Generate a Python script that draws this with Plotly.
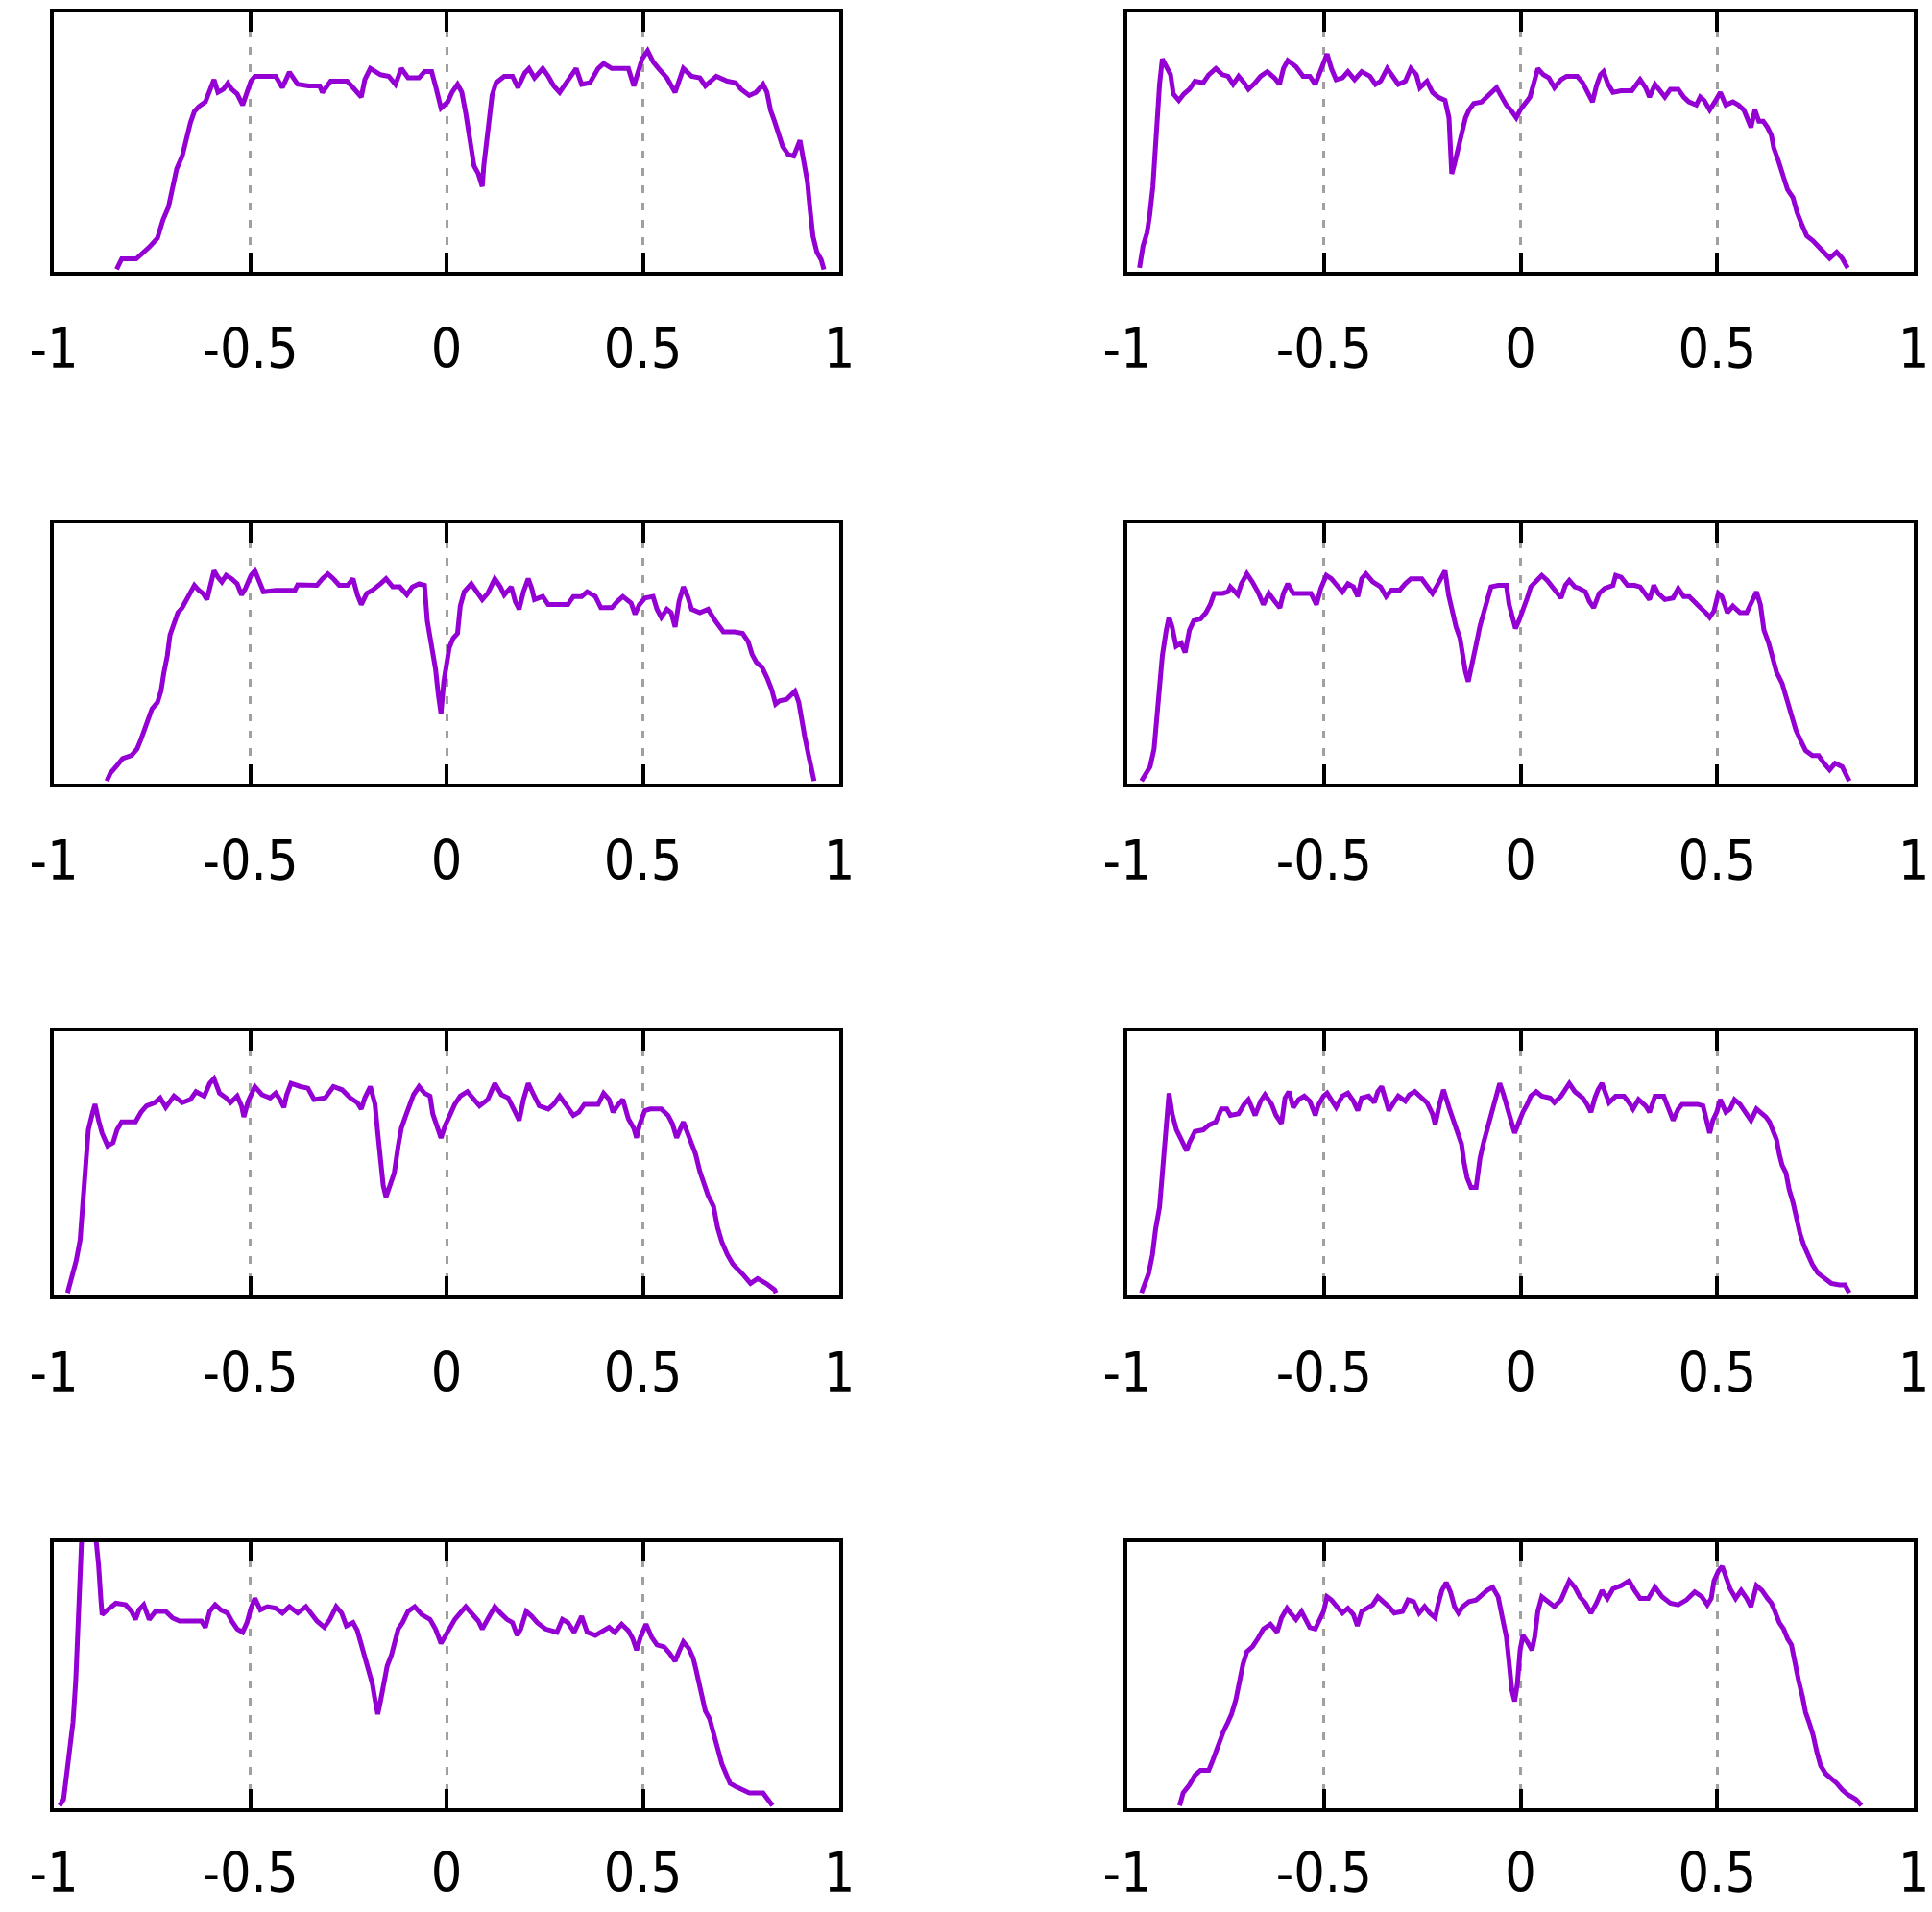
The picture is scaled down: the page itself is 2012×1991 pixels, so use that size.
import plotly.graph_objects as go

tick_vals = [-1, -0.5, 0, 0.5, 1]
tick_text = ["-1", "-0.5", "0", "0.5", "1"]

x1 = [-0.84,-0.827,-0.79,-0.774,-0.757,-0.736,-0.722,-0.708,-0.698,-0.687,-0.673,-0.662,-0.652,-0.642,-0.631,-0.614,-0.603,-0.592,-0.582,-0.568,-0.557,-0.547,-0.533,-0.519,-0.508,-0.498,-0.488,-0.435,-0.418,-0.4,-0.379,-0.351,-0.323,-0.316,-0.295,-0.253,-0.238,-0.217,-0.208,-0.194,-0.168,-0.147,-0.13,-0.115,-0.098,-0.07,-0.056,-0.038,-0.028,-0.014,0.003,0.014,0.028,0.039,0.049,0.059,0.07,0.081,0.091,0.095,0.102,0.109,0.116,0.126,0.147,0.168,0.182,0.199,0.21,0.224,0.245,0.259,0.273,0.288,0.309,0.33,0.344,0.365,0.386,0.4,0.421,0.463,0.477,0.488,0.498,0.512,0.526,0.54,0.561,0.582,0.603,0.624,0.645,0.659,0.687,0.715,0.736,0.75,0.771,0.788,0.806,0.816,0.825,0.835,0.845,0.856,0.87,0.884,0.9,0.909,0.919,0.926,0.933,0.943,0.954,0.961]
y1 = [0.01,0.05,0.05,0.07,0.095,0.13,0.2,0.25,0.316,0.397,0.446,0.52,0.575,0.618,0.637,0.655,0.704,0.741,0.692,0.704,0.727,0.704,0.686,0.643,0.692,0.735,0.754,0.754,0.71,0.77,0.723,0.717,0.717,0.692,0.735,0.735,0.71,0.674,0.741,0.784,0.76,0.754,0.723,0.784,0.748,0.748,0.772,0.772,0.717,0.631,0.655,0.692,0.723,0.692,0.612,0.52,0.409,0.378,0.329,0.409,0.495,0.594,0.68,0.729,0.754,0.754,0.71,0.766,0.784,0.748,0.784,0.754,0.717,0.692,0.741,0.784,0.723,0.729,0.784,0.803,0.784,0.784,0.717,0.772,0.821,0.852,0.81,0.784,0.748,0.692,0.784,0.754,0.748,0.717,0.754,0.735,0.729,0.704,0.68,0.692,0.723,0.692,0.624,0.581,0.526,0.483,0.452,0.446,0.507,0.44,0.347,0.236,0.138,0.076,0.046,0.009]

x2 = [-0.969,-0.96,-0.95,-0.943,-0.935,-0.928,-0.918,-0.911,-0.9,-0.89,-0.883,-0.869,-0.856,-0.842,-0.828,-0.807,-0.793,-0.775,-0.758,-0.744,-0.731,-0.717,-0.703,-0.692,-0.675,-0.661,-0.644,-0.626,-0.613,-0.603,-0.592,-0.571,-0.553,-0.536,-0.522,-0.508,-0.492,-0.481,-0.469,-0.453,-0.439,-0.422,-0.404,-0.383,-0.369,-0.356,-0.339,-0.328,-0.311,-0.293,-0.279,-0.265,-0.256,-0.238,-0.224,-0.21,-0.192,-0.182,-0.178,-0.175,-0.168,-0.158,-0.15,-0.14,-0.131,-0.119,-0.099,-0.085,-0.071,-0.061,-0.05,-0.036,-0.022,-0.011,-0.001,0.013,0.024,0.033,0.044,0.058,0.072,0.086,0.103,0.117,0.144,0.158,0.172,0.183,0.193,0.203,0.211,0.221,0.235,0.256,0.283,0.297,0.304,0.318,0.328,0.342,0.356,0.367,0.381,0.401,0.415,0.428,0.447,0.457,0.467,0.481,0.494,0.508,0.522,0.54,0.554,0.568,0.578,0.586,0.596,0.606,0.617,0.628,0.638,0.644,0.656,0.665,0.679,0.693,0.703,0.714,0.728,0.744,0.758,0.772,0.786,0.804,0.818,0.832]
y2 = [0.015,0.1,0.15,0.218,0.329,0.526,0.723,0.821,0.791,0.76,0.686,0.661,0.686,0.704,0.735,0.729,0.76,0.784,0.76,0.754,0.723,0.754,0.729,0.704,0.729,0.754,0.772,0.748,0.723,0.784,0.815,0.791,0.754,0.754,0.723,0.784,0.84,0.784,0.741,0.748,0.772,0.741,0.772,0.754,0.723,0.735,0.784,0.76,0.723,0.735,0.784,0.76,0.71,0.735,0.692,0.674,0.661,0.594,0.458,0.378,0.415,0.477,0.544,0.594,0.624,0.649,0.655,0.674,0.692,0.71,0.68,0.643,0.618,0.594,0.624,0.655,0.674,0.723,0.784,0.76,0.748,0.71,0.741,0.754,0.754,0.729,0.692,0.655,0.717,0.76,0.772,0.729,0.692,0.698,0.698,0.723,0.741,0.71,0.674,0.723,0.698,0.674,0.704,0.704,0.674,0.655,0.643,0.674,0.661,0.624,0.655,0.692,0.643,0.655,0.643,0.624,0.587,0.557,0.624,0.581,0.581,0.557,0.526,0.477,0.427,0.378,0.317,0.286,0.23,0.187,0.138,0.119,0.095,0.07,0.052,0.076,0.052,0.015]

x3 = [-0.865,-0.856,-0.839,-0.825,-0.802,-0.788,-0.778,-0.769,-0.76,-0.75,-0.736,-0.727,-0.72,-0.711,-0.704,-0.694,-0.684,-0.673,-0.662,-0.652,-0.642,-0.631,-0.62,-0.61,-0.6,-0.592,-0.582,-0.572,-0.561,-0.547,-0.533,-0.522,-0.512,-0.498,-0.488,-0.477,-0.466,-0.435,-0.386,-0.379,-0.33,-0.316,-0.302,-0.288,-0.273,-0.252,-0.238,-0.227,-0.217,-0.203,-0.189,-0.168,-0.154,-0.137,-0.119,-0.101,-0.087,-0.07,-0.056,-0.049,-0.039,-0.028,-0.021,-0.014,-0.007,0.0,0.007,0.017,0.028,0.035,0.045,0.056,0.063,0.077,0.091,0.105,0.115,0.123,0.137,0.147,0.165,0.175,0.185,0.196,0.208,0.217,0.224,0.245,0.259,0.309,0.323,0.344,0.358,0.379,0.393,0.421,0.435,0.449,0.47,0.48,0.491,0.505,0.526,0.536,0.547,0.561,0.572,0.582,0.592,0.603,0.614,0.624,0.645,0.666,0.684,0.694,0.705,0.733,0.754,0.768,0.778,0.789,0.803,0.817,0.828,0.838,0.848,0.866,0.887,0.897,0.904,0.912,0.922,0.929,0.936]
y3 = [0.01,0.04,0.07,0.096,0.108,0.133,0.17,0.207,0.256,0.287,0.312,0.355,0.423,0.491,0.571,0.62,0.657,0.676,0.707,0.735,0.762,0.743,0.731,0.707,0.781,0.818,0.793,0.775,0.8,0.787,0.768,0.725,0.75,0.8,0.818,0.781,0.737,0.743,0.743,0.764,0.762,0.787,0.806,0.787,0.762,0.762,0.787,0.725,0.688,0.731,0.743,0.768,0.787,0.756,0.756,0.725,0.756,0.768,0.762,0.626,0.54,0.441,0.343,0.269,0.392,0.454,0.522,0.559,0.577,0.682,0.737,0.756,0.768,0.737,0.707,0.731,0.768,0.787,0.756,0.725,0.756,0.7,0.67,0.737,0.787,0.75,0.707,0.719,0.688,0.688,0.719,0.719,0.737,0.719,0.676,0.676,0.7,0.719,0.694,0.651,0.688,0.713,0.719,0.67,0.639,0.67,0.657,0.602,0.7,0.756,0.719,0.67,0.657,0.67,0.626,0.602,0.583,0.583,0.577,0.546,0.497,0.466,0.448,0.404,0.361,0.306,0.318,0.324,0.355,0.312,0.244,0.182,0.108,0.047,0.01]

x4 = [-0.964,-0.953,-0.942,-0.932,-0.925,-0.918,-0.911,-0.901,-0.894,-0.886,-0.876,-0.863,-0.853,-0.842,-0.831,-0.814,-0.8,-0.789,-0.779,-0.758,-0.744,-0.738,-0.719,-0.71,-0.696,-0.682,-0.668,-0.654,-0.64,-0.625,-0.612,-0.603,-0.592,-0.578,-0.55,-0.533,-0.519,-0.508,-0.494,-0.481,-0.467,-0.453,-0.439,-0.425,-0.414,-0.404,-0.393,-0.376,-0.356,-0.342,-0.328,-0.307,-0.293,-0.279,-0.251,-0.238,-0.224,-0.214,-0.2,-0.192,-0.183,-0.175,-0.164,-0.154,-0.147,-0.14,-0.133,-0.124,-0.113,-0.103,-0.094,-0.085,-0.075,-0.057,-0.036,-0.029,-0.022,-0.013,-0.004,0.006,0.017,0.026,0.04,0.054,0.068,0.082,0.093,0.103,0.114,0.124,0.138,0.15,0.165,0.175,0.186,0.2,0.214,0.235,0.242,0.256,0.272,0.29,0.304,0.318,0.328,0.339,0.35,0.367,0.388,0.401,0.415,0.429,0.443,0.457,0.471,0.481,0.492,0.503,0.512,0.526,0.54,0.558,0.575,0.586,0.6,0.61,0.619,0.631,0.642,0.651,0.665,0.676,0.686,0.7,0.711,0.725,0.742,0.758,0.772,0.786,0.8,0.818,0.836]
y4 = [0.01,0.035,0.065,0.133,0.262,0.38,0.491,0.59,0.639,0.602,0.528,0.54,0.504,0.59,0.626,0.633,0.657,0.688,0.731,0.731,0.737,0.756,0.725,0.768,0.806,0.775,0.737,0.688,0.731,0.7,0.676,0.731,0.768,0.731,0.731,0.731,0.688,0.75,0.8,0.787,0.762,0.737,0.768,0.756,0.719,0.787,0.806,0.775,0.756,0.719,0.744,0.744,0.768,0.787,0.787,0.762,0.731,0.756,0.8,0.818,0.725,0.669,0.602,0.559,0.478,0.429,0.392,0.466,0.533,0.607,0.657,0.713,0.756,0.762,0.762,0.688,0.639,0.596,0.626,0.663,0.713,0.756,0.775,0.8,0.781,0.756,0.731,0.713,0.762,0.781,0.756,0.75,0.737,0.7,0.676,0.731,0.75,0.762,0.8,0.793,0.762,0.762,0.756,0.725,0.707,0.762,0.731,0.707,0.713,0.75,0.719,0.719,0.694,0.676,0.657,0.639,0.663,0.731,0.719,0.657,0.682,0.657,0.657,0.688,0.737,0.688,0.59,0.54,0.478,0.429,0.386,0.331,0.269,0.207,0.17,0.127,0.108,0.108,0.078,0.053,0.078,0.065,0.01]

x5 = [-0.965,-0.958,-0.95,-0.943,-0.933,-0.926,-0.919,-0.912,-0.902,-0.895,-0.886,-0.877,-0.863,-0.849,-0.839,-0.827,-0.792,-0.778,-0.764,-0.743,-0.729,-0.715,-0.694,-0.673,-0.652,-0.638,-0.617,-0.603,-0.592,-0.578,-0.561,-0.55,-0.533,-0.522,-0.516,-0.505,-0.488,-0.47,-0.449,-0.435,-0.424,-0.414,-0.407,-0.396,-0.372,-0.353,-0.337,-0.309,-0.288,-0.266,-0.245,-0.227,-0.217,-0.208,-0.194,-0.182,-0.175,-0.168,-0.161,-0.154,-0.143,-0.133,-0.123,-0.115,-0.105,-0.095,-0.084,-0.07,-0.056,-0.042,-0.035,-0.021,-0.014,-0.003,0.007,0.021,0.035,0.053,0.07,0.084,0.105,0.115,0.123,0.14,0.157,0.175,0.185,0.196,0.208,0.222,0.236,0.259,0.273,0.288,0.302,0.323,0.337,0.351,0.386,0.4,0.414,0.424,0.438,0.449,0.463,0.477,0.484,0.491,0.505,0.519,0.547,0.564,0.575,0.586,0.603,0.614,0.624,0.634,0.645,0.656,0.666,0.68,0.69,0.701,0.715,0.729,0.743,0.757,0.774,0.792,0.813,0.835,0.839]
y5 = [0.01,0.046,0.094,0.131,0.209,0.367,0.53,0.627,0.688,0.724,0.663,0.615,0.567,0.579,0.627,0.657,0.657,0.694,0.718,0.73,0.748,0.712,0.755,0.73,0.742,0.772,0.755,0.803,0.821,0.766,0.748,0.73,0.755,0.718,0.676,0.736,0.791,0.76,0.748,0.766,0.742,0.712,0.76,0.803,0.791,0.785,0.742,0.748,0.791,0.779,0.748,0.73,0.706,0.748,0.791,0.724,0.615,0.512,0.415,0.373,0.415,0.464,0.567,0.633,0.676,0.712,0.76,0.791,0.766,0.755,0.688,0.627,0.597,0.645,0.682,0.724,0.755,0.772,0.742,0.718,0.742,0.779,0.803,0.76,0.748,0.694,0.663,0.742,0.803,0.76,0.718,0.706,0.724,0.755,0.724,0.682,0.694,0.724,0.724,0.766,0.742,0.694,0.724,0.742,0.669,0.633,0.597,0.645,0.7,0.706,0.706,0.682,0.651,0.597,0.657,0.615,0.579,0.536,0.47,0.421,0.379,0.337,0.258,0.203,0.155,0.119,0.094,0.076,0.046,0.064,0.046,0.022,0.01]

x6 = [-0.964,-0.956,-0.946,-0.936,-0.928,-0.918,-0.911,-0.901,-0.894,-0.886,-0.875,-0.865,-0.856,-0.849,-0.842,-0.828,-0.807,-0.793,-0.775,-0.761,-0.747,-0.738,-0.717,-0.703,-0.692,-0.675,-0.661,-0.65,-0.633,-0.622,-0.608,-0.599,-0.589,-0.578,-0.564,-0.55,-0.536,-0.522,-0.515,-0.501,-0.492,-0.481,-0.469,-0.453,-0.439,-0.425,-0.414,-0.404,-0.386,-0.372,-0.363,-0.353,-0.342,-0.335,-0.325,-0.311,-0.293,-0.283,-0.269,-0.256,-0.238,-0.224,-0.217,-0.206,-0.196,-0.182,-0.172,-0.161,-0.15,-0.144,-0.136,-0.126,-0.113,-0.108,-0.103,-0.094,-0.085,-0.075,-0.067,-0.061,-0.053,-0.043,-0.033,-0.022,-0.015,-0.006,0.006,0.017,0.026,0.04,0.054,0.075,0.086,0.103,0.114,0.124,0.138,0.158,0.169,0.179,0.189,0.197,0.207,0.217,0.225,0.242,0.263,0.276,0.286,0.3,0.318,0.328,0.342,0.364,0.374,0.388,0.401,0.411,0.429,0.45,0.464,0.471,0.481,0.489,0.499,0.508,0.522,0.533,0.544,0.558,0.572,0.586,0.6,0.614,0.624,0.633,0.642,0.651,0.658,0.665,0.675,0.683,0.693,0.7,0.711,0.721,0.731,0.742,0.756,0.772,0.79,0.811,0.825,0.836]
y6 = [0.01,0.046,0.082,0.155,0.252,0.335,0.462,0.676,0.766,0.688,0.627,0.597,0.567,0.548,0.579,0.621,0.627,0.645,0.657,0.706,0.706,0.682,0.688,0.724,0.742,0.682,0.736,0.76,0.724,0.682,0.651,0.748,0.772,0.712,0.742,0.755,0.736,0.682,0.718,0.755,0.766,0.736,0.712,0.755,0.766,0.736,0.7,0.748,0.755,0.73,0.772,0.791,0.736,0.7,0.724,0.755,0.736,0.76,0.772,0.755,0.73,0.688,0.648,0.724,0.779,0.712,0.669,0.615,0.573,0.506,0.446,0.409,0.409,0.464,0.52,0.579,0.627,0.682,0.73,0.772,0.803,0.76,0.7,0.651,0.615,0.651,0.694,0.724,0.755,0.772,0.755,0.748,0.73,0.755,0.785,0.803,0.772,0.748,0.724,0.694,0.748,0.779,0.803,0.755,0.73,0.755,0.755,0.73,0.706,0.742,0.718,0.694,0.755,0.755,0.712,0.663,0.706,0.724,0.724,0.724,0.718,0.682,0.615,0.663,0.694,0.742,0.694,0.706,0.742,0.724,0.694,0.663,0.706,0.688,0.676,0.657,0.621,0.591,0.536,0.494,0.464,0.402,0.352,0.3,0.233,0.188,0.155,0.118,0.085,0.066,0.046,0.04,0.04,0.01]

x7 = [-0.985,-0.975,-0.968,-0.961,-0.951,-0.944,-0.935,-0.928,-0.912,-0.895,-0.886,-0.88,-0.877,-0.863,-0.842,-0.817,-0.802,-0.792,-0.783,-0.771,-0.757,-0.741,-0.715,-0.698,-0.68,-0.624,-0.614,-0.603,-0.589,-0.575,-0.558,-0.547,-0.533,-0.519,-0.508,-0.498,-0.488,-0.474,-0.456,-0.435,-0.418,-0.4,-0.379,-0.358,-0.344,-0.33,-0.311,-0.297,-0.281,-0.267,-0.255,-0.238,-0.227,-0.217,-0.21,-0.199,-0.189,-0.182,-0.175,-0.168,-0.161,-0.151,-0.14,-0.133,-0.123,-0.112,-0.098,-0.081,-0.063,-0.042,-0.028,-0.014,-0.003,0.007,0.021,0.035,0.049,0.063,0.081,0.091,0.105,0.123,0.137,0.154,0.168,0.18,0.189,0.203,0.217,0.231,0.252,0.281,0.295,0.309,0.325,0.344,0.358,0.379,0.4,0.414,0.428,0.446,0.463,0.474,0.484,0.494,0.508,0.522,0.536,0.554,0.568,0.582,0.592,0.603,0.617,0.628,0.634,0.642,0.648,0.659,0.67,0.68,0.69,0.701,0.712,0.722,0.736,0.754,0.771,0.806,0.82,0.83]
y7 = [0.01,0.034,0.118,0.215,0.324,0.481,0.783,1.05,1.3,1.05,0.915,0.783,0.728,0.746,0.771,0.765,0.74,0.71,0.746,0.765,0.71,0.74,0.74,0.716,0.704,0.704,0.68,0.74,0.765,0.746,0.734,0.704,0.674,0.662,0.698,0.752,0.789,0.746,0.758,0.752,0.734,0.758,0.734,0.758,0.734,0.704,0.68,0.71,0.758,0.734,0.686,0.698,0.668,0.614,0.577,0.529,0.469,0.408,0.354,0.403,0.469,0.535,0.577,0.62,0.674,0.698,0.74,0.758,0.728,0.71,0.674,0.62,0.65,0.68,0.71,0.734,0.758,0.734,0.704,0.674,0.71,0.758,0.734,0.71,0.698,0.65,0.674,0.74,0.722,0.698,0.674,0.662,0.71,0.698,0.662,0.722,0.662,0.65,0.668,0.68,0.662,0.692,0.668,0.638,0.595,0.644,0.692,0.644,0.614,0.607,0.583,0.553,0.589,0.626,0.601,0.565,0.529,0.481,0.432,0.366,0.336,0.275,0.227,0.167,0.13,0.094,0.082,0.07,0.058,0.058,0.034,0.01]

x8 = [-0.867,-0.858,-0.842,-0.828,-0.814,-0.793,-0.783,-0.775,-0.765,-0.756,-0.744,-0.735,-0.724,-0.714,-0.706,-0.696,-0.682,-0.668,-0.654,-0.636,-0.619,-0.608,-0.594,-0.585,-0.571,-0.557,-0.547,-0.536,-0.522,-0.511,-0.501,-0.492,-0.481,-0.467,-0.453,-0.439,-0.425,-0.415,-0.404,-0.39,-0.376,-0.363,-0.349,-0.335,-0.321,-0.3,-0.286,-0.272,-0.258,-0.244,-0.231,-0.217,-0.21,-0.2,-0.189,-0.178,-0.168,-0.158,-0.147,-0.131,-0.113,-0.099,-0.085,-0.071,-0.057,-0.047,-0.036,-0.029,-0.022,-0.015,-0.008,-0.001,0.006,0.017,0.029,0.036,0.044,0.054,0.068,0.086,0.103,0.114,0.124,0.138,0.151,0.165,0.179,0.193,0.207,0.221,0.235,0.256,0.276,0.29,0.304,0.325,0.342,0.36,0.381,0.401,0.422,0.443,0.461,0.475,0.485,0.492,0.503,0.513,0.522,0.533,0.547,0.561,0.575,0.586,0.6,0.614,0.628,0.638,0.647,0.658,0.669,0.679,0.689,0.697,0.707,0.717,0.725,0.735,0.744,0.753,0.763,0.776,0.79,0.804,0.818,0.832,0.853,0.867]
y8 = [0.01,0.058,0.088,0.124,0.143,0.143,0.179,0.215,0.257,0.287,0.324,0.354,0.408,0.481,0.541,0.589,0.607,0.638,0.674,0.692,0.662,0.716,0.752,0.734,0.71,0.74,0.71,0.68,0.674,0.704,0.74,0.795,0.783,0.758,0.734,0.752,0.728,0.686,0.74,0.752,0.765,0.795,0.777,0.758,0.734,0.74,0.783,0.777,0.734,0.758,0.734,0.716,0.765,0.819,0.849,0.812,0.758,0.734,0.758,0.777,0.783,0.801,0.819,0.831,0.795,0.722,0.644,0.547,0.444,0.402,0.469,0.595,0.65,0.626,0.595,0.644,0.74,0.795,0.777,0.758,0.783,0.819,0.855,0.831,0.795,0.771,0.734,0.771,0.819,0.789,0.825,0.837,0.855,0.819,0.789,0.789,0.831,0.795,0.771,0.765,0.783,0.813,0.795,0.765,0.789,0.855,0.891,0.909,0.867,0.825,0.789,0.819,0.789,0.758,0.837,0.819,0.789,0.771,0.74,0.698,0.674,0.638,0.614,0.547,0.481,0.42,0.36,0.318,0.275,0.215,0.161,0.13,0.112,0.094,0.07,0.052,0.034,0.01]

series = [(x1, y1), (x2, y2), (x3, y3), (x4, y4), (x5, y5), (x6, y6), (x7, y7), (x8, y8)]

W, H = 2012, 1991
col_px = [(56, 874), (1174, 1993)]
row_px = [(13, 283), (545, 816), (1074, 1349), (1606, 1883)]
row_standoff = [28, 28, 28, 15]

fig = go.Figure()
layout = dict(
    width=W, height=H, margin=dict(l=0, r=0, t=0, b=0, autoexpand=False),
    paper_bgcolor="white", plot_bgcolor="white", showlegend=False,
)
axis_font = dict(family="DejaVu Sans Condensed, DejaVu Sans, sans-serif", size=57, color="black")
for i, (xs, ys) in enumerate(series):
    r, c = divmod(i, 2)
    n = i + 1
    xname = "xaxis" if n == 1 else f"xaxis{n}"
    yname = "yaxis" if n == 1 else f"yaxis{n}"
    xref = "x" if n == 1 else f"x{n}"
    yref = "y" if n == 1 else f"y{n}"
    x0, x1p = col_px[c]
    t, b = row_px[r]
    layout[xname] = dict(
        domain=[x0 / W, x1p / W], anchor=yref, range=[-1, 1], automargin=False,
        tickvals=tick_vals, ticktext=tick_text, ticks="inside", ticklen=20, tickwidth=3.5,
        tickcolor="black", showline=True, linewidth=3.5, linecolor="black", mirror="allticks",
        showgrid=True, gridcolor="#a0a0a0", griddash="8px,10px", gridwidth=3,
        zeroline=False, tickfont=axis_font, ticklabelstandoff=row_standoff[r],
    )
    layout[yname] = dict(
        domain=[1 - b / H, 1 - t / H], anchor=xref, range=[0, 1], automargin=False,
        showticklabels=False, ticks="", showgrid=False, zeroline=False,
        showline=True, linewidth=3.5, linecolor="black", mirror=True,
    )
    fig.add_trace(go.Scatter(x=xs, y=ys, mode="lines", xaxis=xref, yaxis=yref,
                             line=dict(color="#9400d3", width=5), hoverinfo="skip"))

fig.update_layout(**layout)
fig.write_html("out.html")
